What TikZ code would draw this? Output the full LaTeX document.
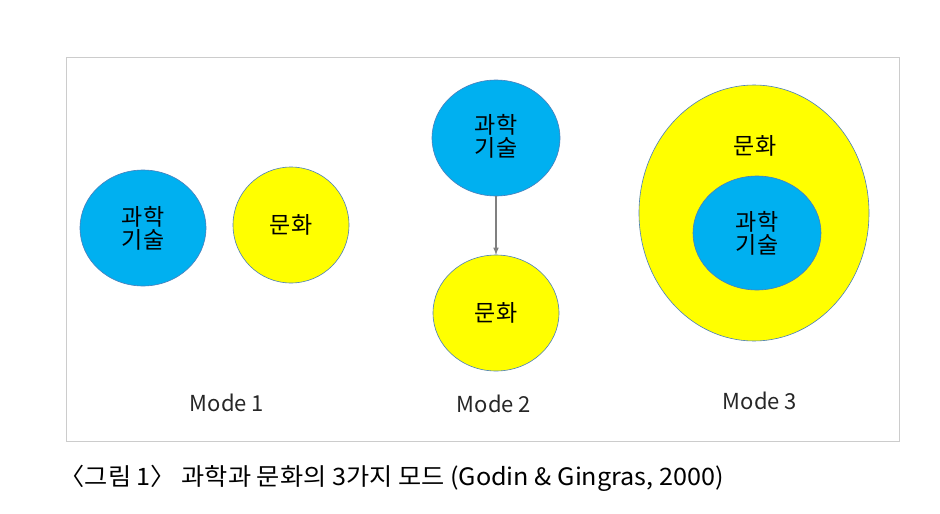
\documentclass[tikz,border=0pt]{standalone}
\usepackage{fontspec}
\setmainfont{Noto Sans CJK KR}
\definecolor{sky}{HTML}{00B0F0}
\definecolor{yel}{HTML}{FFFF00}
\definecolor{edge}{HTML}{4A7EBB}
\begin{document}
\begin{tikzpicture}[x=1pt,y=-1pt,
  blob/.style={draw=edge,line width=0.6pt},
  lab/.style={font=\fontsize{23}{25}\selectfont,align=center},
  mode/.style={font=\fontsize{22}{24}\selectfont,text=black!85}]
\useasboundingbox (0,0) rectangle (940,514);
\fill[white] (0,0) rectangle (940,514);
\draw[black!20,line width=0.6pt] (66,57) rectangle (899,441);
% Mode 1
\draw[blob,fill=sky] (143,228) ellipse [x radius=63,y radius=58];
\node[lab] (a1) at (143,228) {과학\\[-2pt]기술};
\draw[blob,fill=yel] (291,225) ellipse [x radius=58,y radius=58];
\node[lab] (b1) at (291,225) {문화};
% Mode 2
\draw[blob,fill=sky] (496,138) ellipse [x radius=64,y radius=58];
\node[lab] (a2) at (496,136) {과학\\[-2pt]기술};
\draw[blob,fill=yel] (496,313) ellipse [x radius=63,y radius=58];
\node[lab] (b2) at (496,313) {문화};
\coordinate (a2b) at (496,196);
\coordinate (b2t) at (496,255);
\draw[gray,line width=1.5pt,-latex] (a2b) -- (b2t);
% Mode 3
\draw[blob,fill=yel] (754,213) ellipse [x radius=115,y radius=128];
\node[lab] (b3) at (755,146) {문화};
\draw[blob,fill=sky] (757,233) ellipse [x radius=64,y radius=57];
\node[lab] (a3) at (757,233) {과학\\[-2pt]기술};
% labels
\node[mode] (m1) at (227,403) {Mode 1};
\node[mode] (m2) at (494,404) {Mode 2};
\node[mode] (m3) at (760,401) {Mode 3};
\node[anchor=west,font=\fontsize{24}{26}\selectfont,xscale=1.05] (cap) at (56,478) {〈그림 1〉 과학과 문화의 3가지 모드 (Godin \& Gingras, 2000)};
\end{tikzpicture}
\end{document}
